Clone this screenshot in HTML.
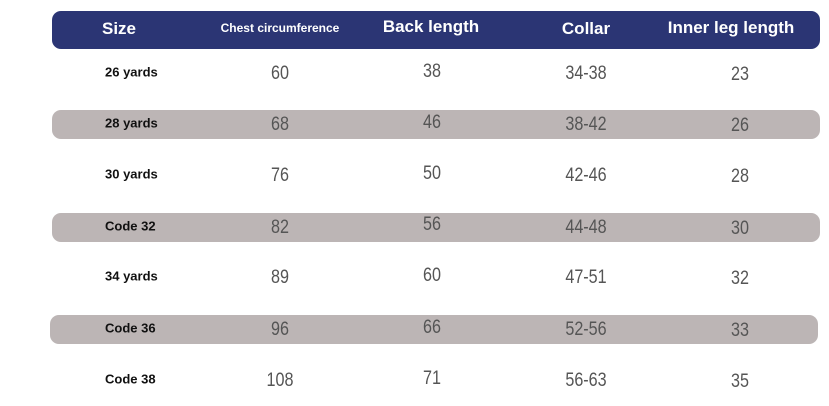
<!DOCTYPE html>
<html><head><meta charset="utf-8"><style>
body{margin:0;width:829px;height:406px;background:#fff;position:relative;overflow:hidden;font-family:"Liberation Sans",sans-serif}
.hdr{position:absolute;left:52px;top:11px;width:768px;height:38px;background:#2b3574;border-radius:9px}
.bar{position:absolute;height:29px;background:#bcb5b5;border-radius:9px;width:768px}
.t{position:absolute;transform:translate(-50%,-50%);white-space:nowrap}
.h{color:#fff;font-weight:bold}
.s{position:absolute;transform:translateY(-50%);left:105px;font-weight:bold;font-size:13px;color:#111}
.n{color:#555;font-size:19px;transform:translate(-50%,-50%) scaleX(0.85)}
</style></head><body>
<div class="hdr"></div>
<div class="bar" style="left:52px;top:110px"></div>
<div class="bar" style="left:52px;top:213px"></div>
<div class="bar" style="left:50px;top:315px"></div>
<div class="t h" style="left:119px;top:29px;font-size:17px">Size</div>
<div class="t h" style="left:280px;top:28px;font-size:12px">Chest circumference</div>
<div class="t h" style="left:431px;top:27px;font-size:17px">Back length</div>
<div class="t h" style="left:586px;top:29px;font-size:17px">Collar</div>
<div class="t h" style="left:731px;top:28px;font-size:17px">Inner leg length</div>
<div id="rows"></div>
<div class="s" style="top:72px">26 yards</div>
<div class="s" style="top:123px">28 yards</div>
<div class="s" style="top:174px">30 yards</div>
<div class="s" style="top:226px">Code 32</div>
<div class="s" style="top:276px">34 yards</div>
<div class="s" style="top:328px">Code 36</div>
<div class="s" style="top:379px">Code 38</div>
<div class="t n" style="left:280px;top:74px">60</div><div class="t n" style="left:432px;top:72px">38</div><div class="t n" style="left:586px;top:74px">34-38</div><div class="t n" style="left:740px;top:75px">23</div>
<div class="t n" style="left:280px;top:125px">68</div><div class="t n" style="left:432px;top:123px">46</div><div class="t n" style="left:586px;top:125px">38-42</div><div class="t n" style="left:740px;top:126px">26</div>
<div class="t n" style="left:280px;top:176px">76</div><div class="t n" style="left:432px;top:174px">50</div><div class="t n" style="left:586px;top:176px">42-46</div><div class="t n" style="left:740px;top:177px">28</div>
<div class="t n" style="left:280px;top:228px">82</div><div class="t n" style="left:432px;top:225px">56</div><div class="t n" style="left:586px;top:228px">44-48</div><div class="t n" style="left:740px;top:229px">30</div>
<div class="t n" style="left:280px;top:278px">89</div><div class="t n" style="left:432px;top:276px">60</div><div class="t n" style="left:586px;top:278px">47-51</div><div class="t n" style="left:740px;top:279px">32</div>
<div class="t n" style="left:280px;top:330px">96</div><div class="t n" style="left:432px;top:328px">66</div><div class="t n" style="left:586px;top:330px">52-56</div><div class="t n" style="left:740px;top:331px">33</div>
<div class="t n" style="left:280px;top:381px">108</div><div class="t n" style="left:432px;top:379px">71</div><div class="t n" style="left:586px;top:381px">56-63</div><div class="t n" style="left:740px;top:382px">35</div>
</body></html>
